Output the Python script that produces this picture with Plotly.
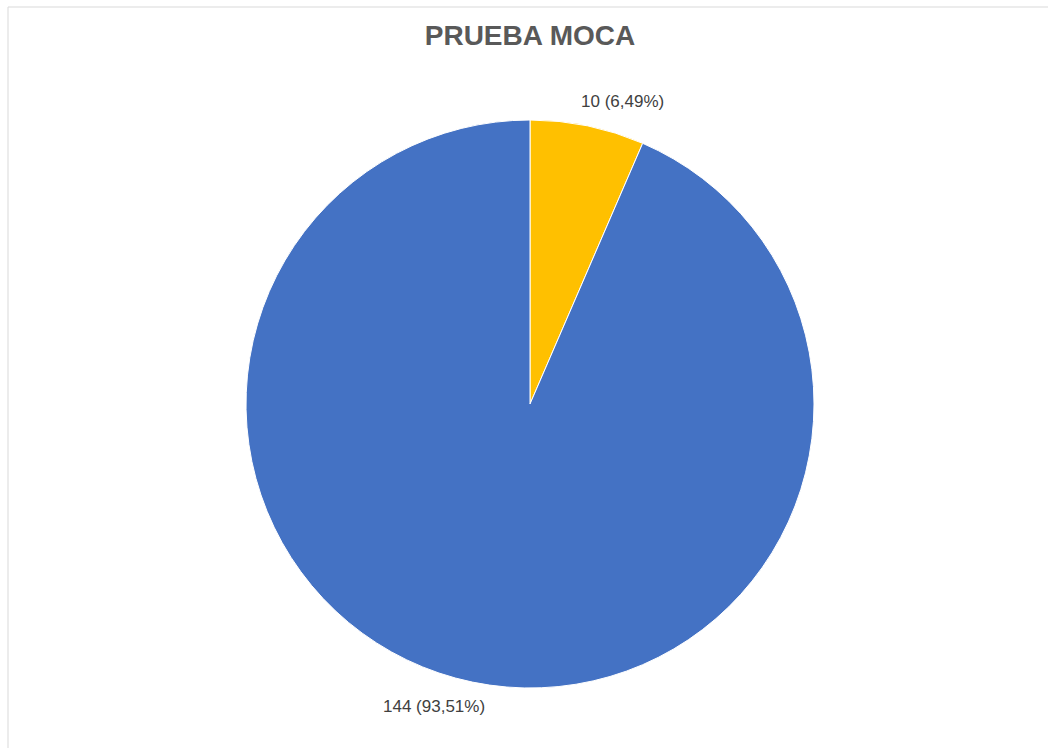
import plotly.graph_objects as go

# Resultados de la prueba MoCA
categorias = ["Alterado", "Normal"]
valores = [10, 144]
colores = ["#FFC000", "#4472C4"]

total = sum(valores)
etiquetas = [f"{v} ({v / total * 100:.2f}%)".replace(".", ",") for v in valores]

W, H = 1048, 748

fig = go.Figure()
fig.add_trace(go.Pie(
    labels=categorias,
    values=valores,
    sort=False,
    direction="clockwise",
    rotation=0,
    marker=dict(colors=colores, line=dict(color="white", width=1)),
    textinfo="none",
    hoverinfo="label+value+percent",
    showlegend=False,
    domain=dict(x=[246 / W, 814 / W], y=[60 / H, 628 / H]),
))

# Etiquetas de datos fuera del círculo
pos_etiquetas = [(622, 102), (434, 706)]
for txt, (px, py) in zip(etiquetas, pos_etiquetas):
    fig.add_annotation(
        x=px / W, y=1 - py / H, xref="paper", yref="paper",
        text=txt, showarrow=False,
        font=dict(family="Liberation Sans, Arial, sans-serif", size=17, color="#404040"),
        xanchor="center", yanchor="middle",
    )

# Borde del área del gráfico
fig.add_shape(type="rect", xref="paper", yref="paper",
              x0=8 / W, x1=1.2, y0=-0.2, y1=1 - 7 / H,
              line=dict(color="#D9D9D9", width=1), fillcolor="rgba(0,0,0,0)")

fig.update_layout(
    width=W, height=H,
    margin=dict(l=0, r=0, t=0, b=0),
    paper_bgcolor="white",
    plot_bgcolor="white",
    title=dict(
        text="<b>PRUEBA MOCA</b>",
        x=530 / W, xanchor="center",
        y=1 - 35 / H, yanchor="middle",
        font=dict(family="Liberation Sans, Arial, sans-serif", size=28, color="#595959"),
    ),
)

fig.write_html("out.html")
